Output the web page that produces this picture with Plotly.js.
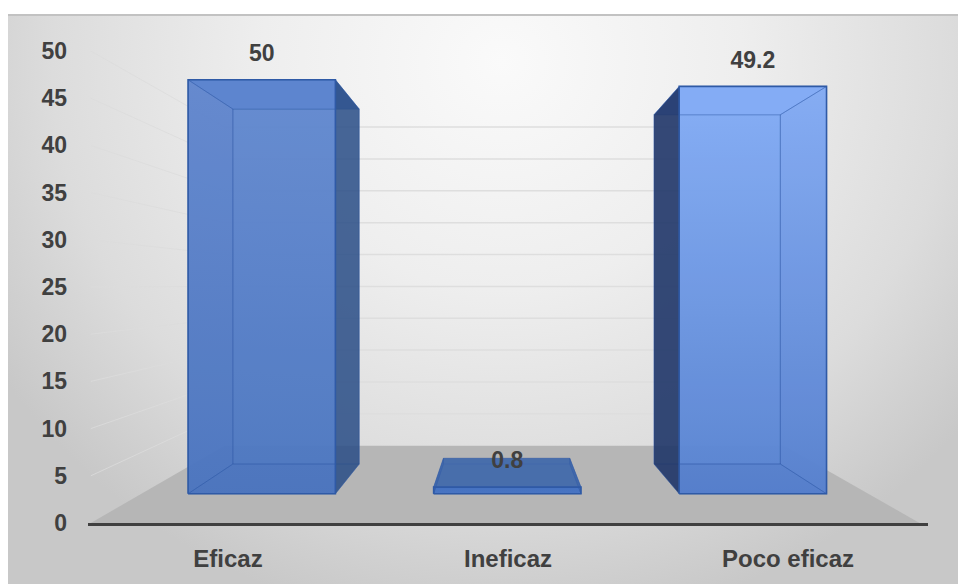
<!DOCTYPE html>
<html lang="es">
<head>
<meta charset="utf-8">
<script src="https://cdn.plot.ly/plotly-3.0.1.min.js"></script>
<style>
  html, body { margin: 0; padding: 0; background: #fff; width: 958px; height: 584px; overflow: hidden; }
  #backdrop {
    position: absolute; left: 8px; top: 14px; width: 950px; height: 570px;
    box-sizing: border-box; border-top: 2px solid #c2c2c2;
    background: radial-gradient(ellipse 600px 570px at 52% 8%, #fafafa 0%, #eeeeee 40%, #dcdcdc 75%, #c8c8c8 100%);
  }
  #chart { position: absolute; left: 0; top: 0; width: 958px; height: 584px; }
</style>
</head>
<body>
<div id="backdrop"></div>
<div id="chart"></div>
<script>
// Survey result shares drawn as 3D columns in a one-point perspective.
const categories = ["Eficaz", "Ineficaz", "Poco eficaz"];
const values = [50, 0.8, 49.2];
const yTicks = [0, 5, 10, 15, 20, 25, 30, 35, 40, 45, 50];

// Perspective set-up, in axis units: vanishing point and depth scale of each plane.
const VANISH_X = 0.98, VANISH_Y = 25.2;
const DEPTH_FRONT = 0.877, DEPTH_BACK = 0.752, DEPTH_WALL = 0.675;
const HALF_WIDTH = 0.3, FLOOR_LEFT = -0.49, FLOOR_RIGHT = 2.47;
const LABEL_LIFT = 2.6;

const project = (c, v, k) => [VANISH_X + (c - VANISH_X) * k, VANISH_Y + (v - VANISH_Y) * k];

function polygon(points, fill, lineColor, lineWidth, extra) {
  const xs = points.map(p => p[0]), ys = points.map(p => p[1]);
  return Object.assign({
    type: "scatter", mode: "lines", x: [...xs, xs[0]], y: [...ys, ys[0]],
    fill: "toself", fillcolor: fill, hoverinfo: "skip",
    line: { color: lineColor, width: lineWidth }
  }, extra || {});
}

const traces = [];

// Floor of the box
traces.push(polygon(
  [project(FLOOR_LEFT, 0, 1), project(FLOOR_RIGHT, 0, 1), project(FLOOR_RIGHT, 0, DEPTH_WALL), project(FLOOR_LEFT, 0, DEPTH_WALL)],
  "#b6b6b6", "rgba(0,0,0,0)", 0));

// Gridlines: along the left wall, then across the back wall
const wallX = [], wallY = [], backX = [], backY = [];
yTicks.filter(t => t > 0).forEach(t => {
  const a = project(FLOOR_LEFT, t, 1), b = project(FLOOR_LEFT, t, DEPTH_WALL), c = project(FLOOR_RIGHT, t, DEPTH_WALL);
  wallX.push(a[0], b[0], null); wallY.push(a[1], b[1], null);
  backX.push(b[0], c[0], null); backY.push(b[1], c[1], null);
});
traces.push({ type: "scatter", mode: "lines", x: wallX, y: wallY, hoverinfo: "skip", line: { color: "rgba(220,220,220,0.8)", width: 1 } });
traces.push({ type: "scatter", mode: "lines", x: backX, y: backY, hoverinfo: "skip", line: { color: "#dedede", width: 1.5 } });

// Column palettes, one per category (front gradient runs from base to top)
const palettes = [
  { front: [[0, "rgba(76,118,192,0.96)"], [1, "rgba(98,136,208,0.94)"]], top: "rgba(92,132,206,0.9)", back: "rgba(82,124,200,0.08)", left: "rgba(70,112,190,0.1)", right: "rgba(42,78,134,0.85)", bottom: "rgba(60,100,178,0.1)" },
  { front: [[0, "rgba(72,118,200,0.96)"], [1, "rgba(66,112,196,0.96)"]], top: "rgba(64,104,170,0.92)", back: "rgba(60,100,170,0.1)", left: "rgba(60,100,170,0.6)", right: "rgba(60,100,170,0.6)", bottom: "rgba(60,100,170,0.1)" },
  { front: [[0, "rgba(86,128,206,0.97)"], [1, "rgba(134,174,246,0.97)"]], top: "rgba(132,172,244,0.95)", back: "rgba(120,160,236,0.08)", left: "rgba(32,54,104,0.9)", right: "rgba(100,140,220,0.08)", bottom: "rgba(70,110,190,0.1)" }
];
const EDGE = "#2f5aa6", INNER_EDGE = "rgba(47,90,166,0.35)";

categories.forEach((name, i) => {
  const v = values[i], pal = palettes[i];
  const l = i - HALF_WIDTH, r = i + HALF_WIDTH;
  const corner = (c, h, k) => project(c, h, k);
  const backFace = [corner(l, 0, DEPTH_BACK), corner(r, 0, DEPTH_BACK), corner(r, v, DEPTH_BACK), corner(l, v, DEPTH_BACK)];
  const bottomFace = [corner(l, 0, DEPTH_FRONT), corner(r, 0, DEPTH_FRONT), corner(r, 0, DEPTH_BACK), corner(l, 0, DEPTH_BACK)];
  const topFace = [corner(l, v, DEPTH_FRONT), corner(r, v, DEPTH_FRONT), corner(r, v, DEPTH_BACK), corner(l, v, DEPTH_BACK)];
  const leftFace = [corner(l, 0, DEPTH_FRONT), corner(l, v, DEPTH_FRONT), corner(l, v, DEPTH_BACK), corner(l, 0, DEPTH_BACK)];
  const rightFace = [corner(r, 0, DEPTH_FRONT), corner(r, v, DEPTH_FRONT), corner(r, v, DEPTH_BACK), corner(r, 0, DEPTH_BACK)];
  const frontFace = [corner(l, 0, DEPTH_FRONT), corner(r, 0, DEPTH_FRONT), corner(r, v, DEPTH_FRONT), corner(l, v, DEPTH_FRONT)];

  traces.push(polygon(frontFace, "rgba(0,0,0,0)", "rgba(0,0,0,0)", 0, {
    fillgradient: { type: "vertical", colorscale: pal.front }
  }));
  traces.push(polygon(backFace, pal.back, INNER_EDGE, 1));
  traces.push(polygon(bottomFace, pal.bottom, INNER_EDGE, 1));
  traces.push(polygon(topFace, pal.top, INNER_EDGE, 1));
  traces.push(polygon(leftFace, pal.left, INNER_EDGE, 1));
  traces.push(polygon(rightFace, pal.right, INNER_EDGE, 1));
  traces.push(polygon(frontFace, "rgba(0,0,0,0)", EDGE, 1.6));
});

// Value labels above each column's front edge
traces.push({
  type: "scatter", mode: "text", hoverinfo: "skip", cliponaxis: false,
  x: categories.map((_, i) => project(i, values[i], DEPTH_FRONT)[0]),
  y: categories.map((_, i) => project(i, values[i], DEPTH_FRONT)[1] + LABEL_LIFT),
  text: values.map(String), textposition: "middle center",
  textfont: { family: "Liberation Sans, Arial, sans-serif", size: 23, color: "#404040", weight: 700 }
});

const layout = {
  width: 958, height: 584,
  margin: { l: 88, r: 30, t: 51, b: 61, pad: 0 },
  paper_bgcolor: "rgba(0,0,0,0)", plot_bgcolor: "rgba(0,0,0,0)",
  showlegend: false, hovermode: false,
  xaxis: {
    type: "linear", range: [-0.5, 2.5], tickmode: "array",
    tickvals: categories.map((_, i) => i), ticktext: categories,
    showgrid: false, zeroline: false, showline: true, linecolor: "#404040", linewidth: 3,
    ticks: "", ticklabelstandoff: 12, fixedrange: true,
    tickfont: { family: "Liberation Sans, Arial, sans-serif", size: 24, color: "#404040", weight: 700 }
  },
  yaxis: {
    range: [0, 50], tickmode: "array", tickvals: yTicks, ticktext: yTicks.map(String),
    showgrid: false, zeroline: false, showline: false, ticks: "", ticklabelstandoff: 20, fixedrange: true,
    tickfont: { family: "Liberation Sans, Arial, sans-serif", size: 23, color: "#404040", weight: 700 }
  }
};

Plotly.newPlot("chart", traces, layout, { displayModeBar: false, staticPlot: true });
</script>
</body>
</html>
